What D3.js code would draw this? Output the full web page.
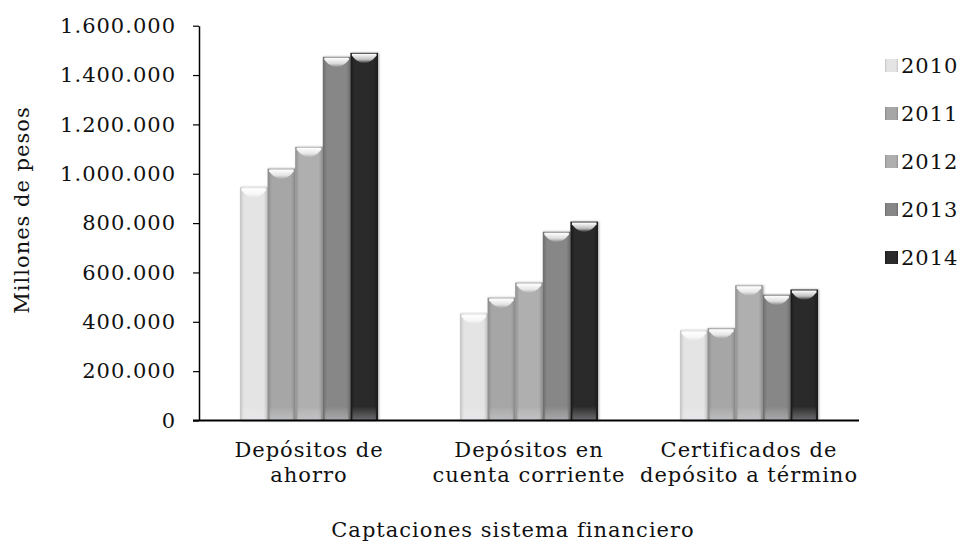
<!DOCTYPE html>
<html>
<head>
<meta charset="utf-8">
<script src="https://cdn.jsdelivr.net/npm/d3@7"></script>
<style>
  html, body { margin: 0; padding: 0; background: #fff; }
  text { font-family: "DejaVu Serif", serif; fill: #111; letter-spacing: 1px; }
</style>
</head>
<body>
<svg id="chart" width="963" height="544"></svg>
<script>
const categories = [["Depósitos de", "ahorro"], ["Depósitos en", "cuenta corriente"], ["Certificados de", "depósito a término"]];
const categoryKeys = ["Depósitos de ahorro", "Depósitos en cuenta corriente", "Certificados de depósito a término"];
const years = ["2010", "2011", "2012", "2013", "2014"];
const values2010 = [945000, 433000, 365000];
const values2011 = [1021000, 498000, 374000];
const values2012 = [1109000, 559000, 548000];
const values2013 = [1474000, 765000, 510000];
const values2014 = [1490000, 806000, 531000];
const yTicks = [0, 200000, 400000, 600000, 800000, 1000000, 1200000, 1400000, 1600000];
const seriesValues = [values2010, values2011, values2012, values2013, values2014];
const colors = ["#e4e4e4", "#a6a6a6", "#afafaf", "#878787", "#2b2b2b"];
const edgeColors = ["#c4c4c4", "#8a8a8a", "#909090", "#6c6c6c", "#1a1a1a"];

const svg = d3.select("#chart");
const mLeft = 199, mRight = 859, mTop = 25.7, mBottom = 420.5;

const x0 = d3.scaleBand().domain(categoryKeys).range([mLeft, mRight]).padding(0);
const x1 = d3.scaleBand().domain(years).range([41, x0.bandwidth() - 41]).padding(0);
const y = d3.scaleLinear().domain([0, 1600000]).range([mBottom, mTop]);

const locale = d3.formatLocale({ decimal: ",", thousands: ".", grouping: [3], currency: ["$", ""] });
const fmt = locale.format(",d");

// gradients
const defs = svg.append("defs");
years.forEach((yr, i) => {
  const g = defs.append("linearGradient").attr("id", "g" + i).attr("x1", "0").attr("x2", "1").attr("y1", "0").attr("y2", "0");
  g.append("stop").attr("offset", "0").attr("stop-color", edgeColors[i]);
  g.append("stop").attr("offset", "0.15").attr("stop-color", colors[i]);
  g.append("stop").attr("offset", "0.85").attr("stop-color", colors[i]);
  g.append("stop").attr("offset", "1").attr("stop-color", edgeColors[i]);
});
const hl = defs.append("linearGradient").attr("id", "hl").attr("x1", "0").attr("x2", "0").attr("y1", "0").attr("y2", "1");
hl.append("stop").attr("offset", "0").attr("stop-color", "#fff").attr("stop-opacity", 1);
hl.append("stop").attr("offset", "0.6").attr("stop-color", "#fff").attr("stop-opacity", 0.7);
hl.append("stop").attr("offset", "1").attr("stop-color", "#fff").attr("stop-opacity", 0);
const bl = defs.append("linearGradient").attr("id", "bl").attr("x1", "0").attr("x2", "0").attr("y1", "0").attr("y2", "1");
bl.append("stop").attr("offset", "0").attr("stop-color", "#fff").attr("stop-opacity", 0);
bl.append("stop").attr("offset", "1").attr("stop-color", "#dfe4ee").attr("stop-opacity", 0.35);
const sh = defs.append("filter").attr("id", "shadow").attr("x", "-20%").attr("y", "-5%").attr("width", "140%").attr("height", "110%");
sh.append("feDropShadow").attr("dx", 1).attr("dy", 0).attr("stdDeviation", 1.2).attr("flood-color", "#000").attr("flood-opacity", 0.35);

// bars
const groups = svg.append("g").selectAll("g").data(categoryKeys).join("g")
  .attr("transform", d => `translate(${x0(d)},0)`);

groups.each(function(cat, ci) {
  const g = d3.select(this);
  years.forEach((yr, si) => {
    const v = seriesValues[si][ci];
    const bx = x1(yr), bw = x1.bandwidth(), by = y(v), bh = y(0) - y(v);
    g.append("rect").attr("x", bx).attr("y", by).attr("width", bw).attr("height", bh)
      .attr("fill", `url(#g${si})`).attr("filter", "url(#shadow)");
    g.append("path")
      .attr("d", `M${bx + 1.5},${by + 1} L${bx + bw - 1.5},${by + 1} L${bx + bw - 1.5},${by + 3} Q${bx + bw / 2},${by + 18} ${bx + 1.5},${by + 3} Z`)
      .attr("fill", "url(#hl)");
    g.append("rect").attr("x", bx + 2).attr("y", y(0) - 14).attr("width", bw - 4).attr("height", 14)
      .attr("fill", "url(#bl)");
  });
});

// y axis
const yAxis = d3.axisLeft(y).tickValues(yTicks).tickFormat(d => fmt(d)).tickSize(6).tickSizeOuter(0).tickPadding(17);
const ya = svg.append("g").attr("transform", `translate(${mLeft},0)`).call(yAxis);
ya.select(".domain").attr("stroke", "#000").attr("stroke-width", 1.5);
ya.selectAll(".tick line").attr("stroke", "#000").attr("stroke-width", 1.2);
ya.selectAll(".tick text").attr("font-size", 21).attr("font-family", "DejaVu Serif").attr("fill", "#111");

// x axis line
svg.append("line").attr("x1", mLeft - 6).attr("x2", mRight).attr("y1", mBottom).attr("y2", mBottom)
  .attr("stroke", "#000").attr("stroke-width", 1.8);

// category labels
categoryKeys.forEach((k, i) => {
  const t = svg.append("text").attr("x", x0(k) + x0.bandwidth() / 2).attr("y", 457)
    .attr("text-anchor", "middle").attr("font-size", 21);
  categories[i].forEach((line, li) => {
    t.append("tspan").attr("x", x0(k) + x0.bandwidth() / 2).attr("dy", li === 0 ? 0 : 25).text(line);
  });
});

// axis titles
svg.append("text").attr("x", 513).attr("y", 537).attr("text-anchor", "middle").attr("font-size", 21)
  .text("Captaciones sistema financiero");
svg.append("text").attr("transform", "translate(29,210) rotate(-90)").attr("text-anchor", "middle").attr("font-size", 21)
  .text("Millones de pesos");

// legend
const legend = svg.append("g");
years.forEach((yr, i) => {
  const cy = 65 + i * 48;
  legend.append("rect").attr("x", 885).attr("y", cy - 6).attr("width", 13).attr("height", 13)
    .attr("fill", `url(#g${i})`);
  legend.append("text").attr("x", 901).attr("y", cy + 8).attr("font-size", 21).text(yr);
});
</script>
</body>
</html>
